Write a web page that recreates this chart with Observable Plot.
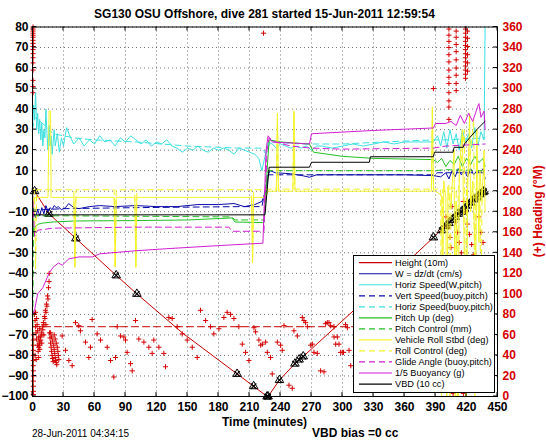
<!DOCTYPE html>
<html><head><meta charset="utf-8">
<script src="https://cdn.jsdelivr.net/npm/d3@7"></script>
<script src="https://cdn.jsdelivr.net/npm/@observablehq/plot@0.6"></script>
<style>body{margin:0;background:#fff}</style>
</head><body><div id="chart"></div>
<script>
// ---------- tick labels ----------
const xTicks = [0,30,60,90,120,150,180,210,240,270,300,330,360,390,420,450];
const yTicks = [-100,-90,-80,-70,-60,-50,-40,-30,-20,-10,0,10,20,30,40,50,60,70,80];
const headingTicks = [0,20,40,60,80,100,120,140,160,180,200,220,240,260,280,300,320,340,360];

// ---------- texts ----------
const titleText = "SG130 OSU Offshore, dive 281 started 15-Jun-2011 12:59:54";
const xLabel = "Time (minutes)";
const rightLabel = "(+) Heading (°M)";
const dateText = "28-Jun-2011 04:34:15";
const vbdText = "VBD bias =0 cc";
const legendLabels = ["Height (10m)","W = dz/dt (cm/s)","Horiz Speed(W,pitch)","Vert Speed(buoy,pitch)","Horiz Speed(buoy,pitch)","Pitch Up (deg)","Pitch Control (mm)","Vehicle Roll Stbd (deg)","Roll Control (deg)","Glide Angle (buoy,pitch)","1/5 Buoyancy (g)","VBD (10 cc)"];

// ---------- series ----------
const heightT = [0,2,16,42,81,101,145,198,214,227,228,239,254,262,311,369,388,401,420,437];
const heightV = [0,0,-11,-23,-41,-50,-69,-89,-95,-100,-100,-92,-84,-80.5,-58,-31.5,-22.5,-16,-8,0];
const markT = [2,16,42,81,101,198,214,227,228,239,254,258,262,388,396,400,403,406,409,412,415,418,421,424,427,430,433,436,437];
const markV = [0,-11,-23,-41,-50,-89,-95,-100,-100,-92,-84,-82,-80.5,-22.5,-19,-17,-15.5,-14,-12.5,-11,-10,-8.5,-7,-5.5,-4,-3,-1.5,-0.5,0];

const wT = [0,1,3,5,7,9,11,13,15,17,19,21,23,25,28,32,35,40,45,55,65,80,100,120,140,160,180,195,205,215,222,226,228,230,235,250,262,268,275,300,330,360,388,395,400,403,406,409,412,415,418,421,424,427,430,433,436,438];
const wV = [-2,-10,-13,-9,-12,-8,-11,-7,-10,-8,-9,-7,-8,-7.5,-9,-8,-6,-8,-8.5,-7.5,-7,-7.5,-7,-7.5,-7.5,-6.5,-6.5,-6,-7.5,-6.5,-5,0,8,10,9,8.5,7.5,6.8,8,8,8,8,7.6,7,9,6,10,7,11,8,10,7,11,8,10,9,11,6];

const horizT = [0,1,2,3,4,5,6,7,8,9,10,11,12,13,14,15,16,17,18,19,20,21,22,24,26,28,30,33,36,40,45,50,55,60,65,70,75,80,85,90,95,100,105,110,115,120,125,130,135,140,145,150,155,160,165,170,175,180,185,190,195,200,205,210,215,219,222,225,228,232,236,240,245,250,255,260,265,270,275,280,290,300,310,320,330,340,350,360,370,380,388,392,395,398,401,404,407,410,413,416,419,422,425,428,431,434,437,438];
const horizV = [30,42,35,48,30,38,28,35,25,33,22,30,26,40,28,20,32,22,27,18,24,30,22,28,19,26,22,31,27,23,26,22,25,23,27,24,25,22,26,24,27,25,23,25,22,24,23,25,22,21,19,21,20,22,20,19,21,20,21,20,18,21,20,19,18,16,10,17,24,23,21,23,22,21,22,21,22,20,22,22,21,22,23,22,23,24,23,24,24,24,24,27,22,29,21,30,23,28,20,30,24,28,21,31,22,29,25,80];

const vertT = [0,1,10,30,100,200,222,225,228,250,300,388,392,438];
const vertV = [-4,-9,-9,-8.5,-8,-7.5,-7.5,0,8,8,8,8,9,9];

const horizBT = [0,2,10,20,40,60,100,150,200,222,226,230,260,300,340,388,400,438];
const horizBV = [30,36,33,28,26,25,24,22,21,21,18,24,23,23,24,25,25,26];

const pitchT = [0,1,3,6,10,20,40,100,150,193,196,224,227,229,240,268,272,300,330,388,392,396,400,404,408,412,416,420,424,428,432,436,438];
const pitchV = [0,-20,-17,-16,-15.5,-15,-14.5,-14.3,-14,-13,-15,-15.3,10,25,24,23,19,17,16,15.4,14,16,12,15,13,17,12,16,13,17,14,16,12];

const pitchCT = [0,0.5,1,30,100,193,196,224,226,228,300,388,400,438];
const pitchCV = [-100,-50,-12,-12,-12.2,-12.5,-14,-14,0,10,10,10,10.5,10];

const rollT = [0,1,2,15,16,17.5,18,40,41,42,79,80,81,99,100,101,212,213,214,225,228,236,237,238,252,253,254,386,387,388,390,396,397,398,400,401,402,405,408,409,410,412,413,416,417,420,421,423,424,426,429,430,432,433,435,437,438];
const rollV = [0,-8,-3,-3,39,39,-3,-3,-37,-3,-3,-37,-3,-3,-37,-3,-3,-35,-3,-3,0,0,38,0,0,39,0,0,41,0,0,-2,-60,5,-3,-100,2,-8,20,-100,-5,-100,10,30,-5,-100,-2,38,-10,5,-40,30,-25,10,-5,20,-10];

const rollCT = [0,2,3,4,40,41,42,79,80,81,99,100,101,212,213,214,225,228,236,237,238,252,253,254,386,387,388,395,396,397,403,404,405,410,411,412,418,419,420,427,428,429,433,434,435,438];
const rollCV = [1,0.7,-38,0.7,0.7,-37,0.7,0.7,-37,0.7,0.7,-37,0.7,0.7,-32,0.7,0.7,1,1,36,1,1,38,1,1,41,1,1,-100,1,3,-100,2,1,-100,1,30,-100,1,35,-100,1,0,-80,1,1];

const glideT = [0,2,5,20,100,190,193,196,224,227,229,235,250,270,300,388,400,438];
const glideV = [0,-22,-19,-18,-17.5,-17.5,-19.5,-19.5,-19.5,20,26,24,22,21,20.5,21,22,23];

const buoyT = [0,2,5,10,16,20,25,29,35,45,58,65,100,130,180,223,226,228,232,268,270,330,388,390,400,405,410,414,418,422,426,430,432,434,437,438];
const buoyV = [-60,-58,-50,-47,-40,-37,-35,-36,-33,-32,-32,-30.5,-29,-28,-26.5,-25.3,20,27,24,23,28,29.6,30.8,33,33,34,32,37,33,38,34,40,42.7,36,39,30];

const vbdT = [0,225,229,268,270,326,327,388,389,407,408,417,418,423,430,437,438];
const vbdV = [-11.5,-11.5,11.7,11.7,14.1,14.1,16.8,16.8,19,19,21.4,21.4,23,26,30,33.6,34];

const headTargetT = [0,440];
const headTargetH = [68,68];

const headT = [0.5,0.5,0.5,0.5,0.5,0.5,0.5,0.5,0.5,0.5,0.5,0.5,0.5,0.5,0.5,0.5,0.5,
 0.8,0.8,0.8,0.8,0.8,0.8,0.8,0.8,0.8,0.8,0.8,0.8,0.8,
 2,2.5,3,3,3.5,4,4,4.5,5,5,5.5,6,6,6.5,7,2.5,3.5,7,
 6,6.5,7,7.5,8,8.5,9,9.5,10,10.5,11,11.5,12,12.5,13,13.5,14,14.5,15,15.5,16,16.2,13,11,9,
 16.5,17,17.5,18,18.5,19,19.5,20,17.5,18.5,19.5,20.5,21,21.5,22,22.5,23,23.5,21,22,23,24,24.5,25,25.5,
 28.7,32,35.2,38.4,41.6,44.8,46.4,51.3,54.5,56.1,57.7,62.6,65.8,72.3,75.5,78.7,80.3,82,85.2,88.4,90,91.6,94.9,96.5,99.7,102.9,107.8,112.6,115.8,117.4,122.3,127.1,128.7,132,135.2,140,144.9,149.7,154.6,159.4,162.6,167.5,172.3,175.5,180.4,185.2,188.4,191.7,194.9,199.7,203,206.2,209.4,
 214.3,215.9,219.1,220.8,222.4,223.6,225.6,227.2,230.4,232,236.9,240.1,241.7,243.4,248.2,251.4,253,256.3,261.1,262.7,264.3,266,269.2,270.8,272.4,275.6,278.8,282.1,283.7,285.3,286.9,288.5,291.7,291.8,293.4,295,296.6,298.2,299.8,301,303,304.7,306.3,308,
 388,403,403,403,403,403,403,403,403,403,403,403,403,403,
 410,410,410,410,410,410,410,410,410,
 419,419,419,419,419,419,419,419,419,419,419,419,419,
 421,421,421,421,421,421,
 400,402,404,405,406,409,411,413,415,417,419,421,423,425,427,430,432,434,436,407,417,395,398,412,425,433];
const headH = [360,358,356,354,352,350,347,344,341,338,334,330,325,318,308,302,296,
 60,55,50,45,40,35,30,25,20,15,10,5,2,
 80,74,82,68,62,76,56,70,50,64,44,58,38,52,46,40,36,66,
 48,54,50,58,55,62,60,68,65,72,70,78,76,84,82,90,88,98,95,106,112,120,70,60,52,
 62,57,52,48,44,40,37,34,62,58,54,50,46,42,38,35,33,31,60,56,52,48,44,40,36,
 59,45,35,30,72,69,64,53,38,48,75,61,55,48,35,19,38,68,59,58,55,43,32,25,74,56,53,48,42,55,48,42,29,77,76,68,61,55,48,38,84,74,68,61,66,77,82,80,76,68,51,43,35,
 67,63,55,50,51,354,53,43,38,22,53,50,45,69,11,8,64,59,77,74,72,68,50,51,43,42,25,24,71,72,72,69,68,58,51,58,51,43,43,43,70,67,45,30,
 300,358,352,346,340,333,326,318,311,305,296,288,282,270,
 356,350,343,336,328,320,313,305,298,
 358,354,350,346,342,338,334,330,326,322,318,314,310,
 356,349,341,333,325,317,
 175,165,155,145,185,170,160,150,140,190,180,168,158,148,138,195,175,160,150,3,3,100,120,110,95,125];

// ---------- colours ----------
const cRed = "#c80000", cBlue = "#0a0aa8", cCyan = "#3ee0e0", cGreen = "#22c022",
      cYellow = "#f4f42a", cMag = "#d21ed2", cBlack = "#000000", cHead = "#d40000";
const dash = "6,4";

const pts = (T, V) => T.map((t, i) => ({t, v: V[i]}));
const ln = (T, V, color, da) => Plot.line(pts(T, V), {x: "t", y: "v", stroke: color, strokeWidth: 1, strokeDasharray: da});
const toLeft = d => d.v / 2 - 100; // heading (right axis) to left-axis units

const W = 546, H = 442, mL = 32, mR = 49, mT = 26.5, mB = 46;

const chart = Plot.plot({
  width: W, height: H,
  marginLeft: mL, marginRight: mR, marginTop: mT, marginBottom: mB,
  x: {type: "linear", domain: [0, 450]},
  y: {type: "linear", domain: [-100, 80]},
  style: {fontFamily: "'Liberation Sans', Arial, Helvetica, sans-serif", fontSize: "12px", fontWeight: "bold", background: "white", overflow: "visible"},
  marks: [
    Plot.gridX(xTicks, {stroke: "#000", strokeOpacity: 0.55, strokeDasharray: "1,3"}),
    Plot.gridY(yTicks, {stroke: "#000", strokeOpacity: 0.55, strokeDasharray: "1,3"}),
    Plot.dot(pts(headT, headH), {x: "t", y: toLeft, symbol: "plus", r: 1.8, stroke: cHead, strokeWidth: 1}),
    Plot.line(pts(headTargetT, headTargetH), {x: "t", y: toLeft, stroke: cRed, strokeWidth: 1, strokeDasharray: "7,4"}),
    ln(heightT, heightV, cRed),
    Plot.dot(pts(markT, markV), {x: "t", y: "v", symbol: "triangle", r: 3.2, stroke: "black", strokeWidth: 1}),
    Plot.dot(pts(markT, markV), {x: "t", y: "v", symbol: "times", r: 2.6, stroke: "black", strokeWidth: 1.2}),
    ln(wT, wV, cBlue),
    ln(horizT, horizV, cCyan),
    ln(vertT, vertV, cBlue, dash),
    ln(horizBT, horizBV, cCyan, dash),
    ln(pitchT, pitchV, cGreen),
    ln(pitchCT, pitchCV, cGreen, dash),
    ln(rollT, rollV, cYellow),
    ln(rollCT, rollCV, cYellow, dash),
    ln(glideT, glideV, cMag, dash),
    ln(buoyT, buoyV, cMag),
    ln(vbdT, vbdV, cBlack),
    Plot.frame({stroke: "black", strokeWidth: 1}),
    Plot.axisX(xTicks, {tickSize: 0, tickPadding: 6, label: null, anchor: "bottom"}),
    Plot.axisY(yTicks, {tickSize: 0, tickPadding: 4, label: null, anchor: "left"}),
    Plot.axisY(yTicks, {tickSize: 0, tickPadding: 5, label: null, anchor: "right", color: cHead, fill: cHead,
      tickFormat: d => String(headingTicks[yTicks.indexOf(d)])})
  ]
});

const svg = d3.select(chart);
const xs = chart.scale("x"), ys = chart.scale("y");
const X = v => xs.apply(v), Y = v => ys.apply(v);
const tg = svg.append("g").attr("stroke", "black").attr("stroke-width", 1);
xTicks.forEach(t => {
  tg.append("line").attr("x1", X(t)).attr("x2", X(t)).attr("y1", Y(-100)).attr("y2", Y(-100) - 4);
  tg.append("line").attr("x1", X(t)).attr("x2", X(t)).attr("y1", Y(80)).attr("y2", Y(80) + 4);
});
yTicks.forEach(v => {
  tg.append("line").attr("x1", X(0)).attr("x2", X(0) + 4).attr("y1", Y(v)).attr("y2", Y(v));
  tg.append("line").attr("x1", X(450)).attr("x2", X(450) - 4).attr("y1", Y(v)).attr("y2", Y(v));
});

const font = "'Liberation Sans', Arial, Helvetica, sans-serif";
const addText = (x, y, txt, size, weight, anchor, fill) =>
  svg.append("text").attr("x", x).attr("y", y).attr("text-anchor", anchor)
    .attr("font-family", font).attr("font-size", size).attr("font-weight", weight)
    .attr("fill", fill).text(txt);
addText((mL + W - mR) / 2, 18, titleText, 12, "bold", "middle", "black");
addText((mL + W - mR) / 2, 426, xLabel, 12, "bold", "middle", "black");
addText(32, 437, dateText, 10, "normal", "start", "black");
addText(312, 437, vbdText, 12, "bold", "start", "black");
svg.append("text").attr("transform", `translate(542,${(mT + H - mB) / 2}) rotate(-90)`).attr("text-anchor", "middle")
  .attr("font-family", font).attr("font-size", 12).attr("font-weight", "bold").attr("fill", cHead).text(rightLabel);

// legend
const legendStyles = [
  [cRed, null], [cBlue, null], [cCyan, null], [cBlue, dash], [cCyan, dash], [cGreen, null],
  [cGreen, dash], [cYellow, null], [cYellow, dash], [cMag, dash], [cMag, null], [cBlack, null]
];
const lg = svg.append("g");
lg.append("rect").attr("x", 353.5).attr("y", 255.5).attr("width", 141).attr("height", 137)
  .attr("fill", "white").attr("stroke", "black").attr("stroke-width", 1);
legendLabels.forEach((lab, i) => {
  const y = 262.7 + i * 11.03;
  lg.append("line").attr("x1", 359).attr("x2", 392).attr("y1", y).attr("y2", y)
    .attr("stroke", legendStyles[i][0]).attr("stroke-width", 1.2)
    .attr("stroke-dasharray", legendStyles[i][1]);
  lg.append("text").attr("x", 395).attr("y", y + 3.3).attr("text-anchor", "start").attr("font-family", font).attr("font-size", 9.2)
    .attr("font-weight", "normal").attr("fill", "black").text(lab);
});

document.getElementById("chart").appendChild(chart);
</script>
</body></html>
